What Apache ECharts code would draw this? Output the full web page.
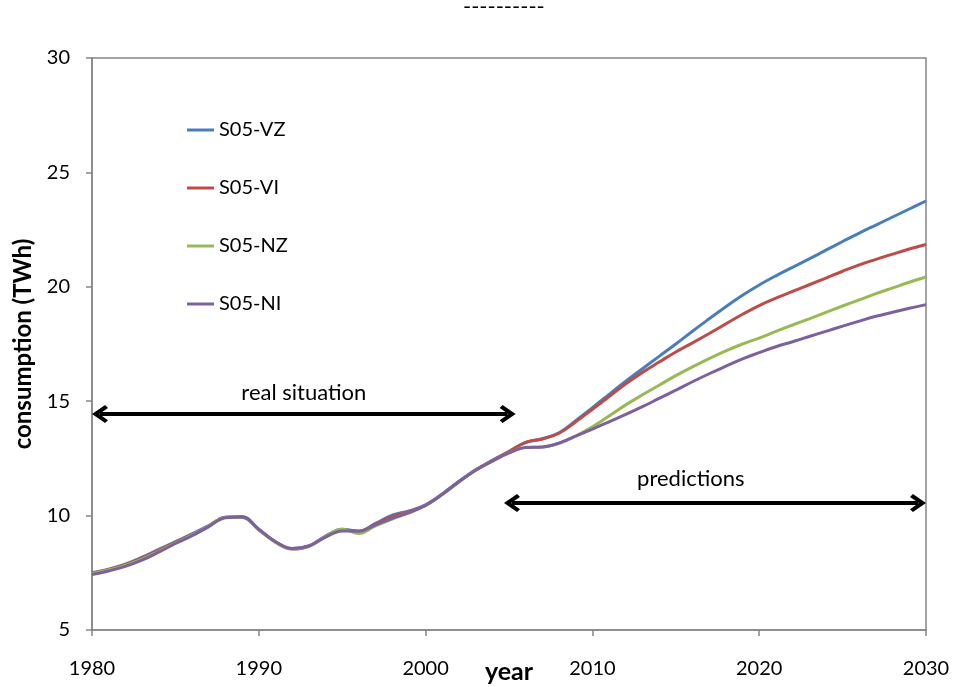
<!DOCTYPE html>
<html>
<head>
<meta charset="utf-8">
<script src="https://cdn.jsdelivr.net/npm/echarts@6/dist/echarts.min.js"></script>
<style>
html,body{margin:0;padding:0;background:#fff;}
#chart{width:954px;height:687px;}
</style>
</head>
<body>
<div id="chart"></div>
<script>
const years = [1980,1981,1982,1983,1984,1985,1986,1987,1988,1989,
  1990,1991,1992,1993,1994,1995,1996,1997,1998,1999,
  2000,2001,2002,2003,2004,2005,2006,2007,2008,2009,
  2010,2011,2012,2013,2014,2015,2016,2017,2018,2019,
  2020,2021,2022,2023,2024,2025,2026,2027,2028,2029,2030];

const s05VZ = [7.50,7.66,7.88,8.18,8.52,8.86,9.20,9.56,9.93,9.95,
  9.40,8.86,8.56,8.68,9.10,9.40,9.32,9.66,10.02,10.20,
  10.47,10.95,11.50,12.00,12.42,12.80,13.20,13.36,13.62,14.15,
  14.72,15.30,15.87,16.42,16.96,17.50,18.06,18.60,19.13,19.63,
  20.08,20.48,20.85,21.22,21.60,21.98,22.35,22.70,23.05,23.40,23.75];

const s05VI = [7.48,7.64,7.85,8.14,8.48,8.83,9.17,9.54,9.93,9.94,
  9.39,8.84,8.54,8.66,9.08,9.38,9.32,9.63,9.96,10.17,
  10.45,10.93,11.48,11.99,12.41,12.80,13.20,13.35,13.60,14.10,
  14.65,15.20,15.76,16.26,16.71,17.15,17.55,17.96,18.38,18.80,
  19.18,19.50,19.80,20.09,20.38,20.68,20.96,21.20,21.43,21.65,21.85];

const s05NZ = [7.46,7.62,7.82,8.10,8.44,8.80,9.15,9.53,9.92,9.92,
  9.37,8.84,8.55,8.66,9.08,9.40,9.22,9.55,9.85,10.12,
  10.44,10.92,11.48,11.98,12.38,12.74,12.98,13.00,13.16,13.48,
  13.88,14.35,14.84,15.28,15.70,16.12,16.50,16.86,17.20,17.50,
  17.76,18.05,18.33,18.60,18.88,19.16,19.43,19.70,19.95,20.20,20.43];

const s05NI = [7.42,7.58,7.78,8.05,8.40,8.78,9.12,9.52,9.91,9.94,
  9.40,8.86,8.56,8.67,9.06,9.33,9.32,9.60,9.88,10.13,
  10.45,10.93,11.48,11.98,12.38,12.74,12.98,13.00,13.17,13.47,
  13.78,14.10,14.42,14.76,15.12,15.48,15.85,16.20,16.53,16.85,
  17.12,17.38,17.60,17.83,18.05,18.28,18.50,18.71,18.89,19.06,19.22];

const seriesNames = ['S05-VZ','S05-VI','S05-NZ','S05-NI'];
const seriesValues = [s05VZ, s05VI, s05NZ, s05NI];
const seriesColors = ['#4A7EBB','#BE4B48','#98B954','#7D60A0'];

const xTicks = [1980, 1990, 2000, 2010, 2020, 2030];
const yTicks = [5, 10, 15, 20, 25, 30];

// annotation arrows: [fromYear, toYear, value]
const realArrow = [1980, 2005.4, 14.44];
const predArrow = [2004.7, 2030, 10.55];
// annotation texts: [year, value, text]
const realText = [1992.7, 15.35, 'real situation'];
const predText = [2015.9, 11.62, 'predictions'];

const FONT = 'Lato';
const chevron = 'path://M50,0 L100,62 L84,76 L50,34 L16,76 L0,62 Z';
const tipShift = 0.48;

const chart = echarts.init(document.getElementById('chart'), null, {renderer:'canvas'});

const series = seriesNames.map((name, i) => {
  const s = {
    name: name,
    type: 'line',
    data: years.map((y, k) => [y, seriesValues[i][k]]),
    smooth: 0.4,
    symbol: 'none',
    showSymbol: false,
    lineStyle: {color: seriesColors[i], width: 3},
    itemStyle: {color: seriesColors[i]},
    z: 2 + i,
    emphasis: {disabled: true}
  };
  if (i === 0) {
    s.markLine = {
      silent: true,
      symbol: [chevron, chevron],
      symbolSize: [18, 16],
      lineStyle: {color: '#000', width: 4, type: 'solid'},
      label: {show: false},
      emphasis: {disabled: true},
      data: [
        [{coord: [realArrow[0] + tipShift, realArrow[2]]}, {coord: [realArrow[1] - tipShift, realArrow[2]]}],
        [{coord: [predArrow[0] + tipShift, predArrow[2]]}, {coord: [predArrow[1] - tipShift, predArrow[2]]}]
      ],
      z: 10
    };
    s.markPoint = {
      silent: true,
      symbol: 'circle',
      symbolSize: 1,
      itemStyle: {color: 'rgba(0,0,0,0)'},
      label: {show: true, position: 'inside', formatter: p => p.name,
        color: '#000', fontFamily: FONT, fontSize: 22},
      data: [
        {name: realText[2], coord: [realText[0], realText[1]]},
        {name: predText[2], coord: [predText[0], predText[1]]}
      ]
    };
  }
  return s;
});

chart.setOption({
  animation: false,
  backgroundColor: '#fff',
  title: {
    text: '----------',
    left: 463,
    top: -4,
    padding: 0,
    textStyle: {fontFamily: FONT, fontSize: 22, fontWeight: 'normal', color: '#000'}
  },
  legend: {
    data: seriesNames,
    orient: 'vertical',
    left: 187,
    top: 120,
    padding: 0,
    icon: 'rect',
    itemWidth: 27,
    itemHeight: 3,
    itemGap: 38,
    textStyle: {fontFamily: FONT, fontSize: 20, color: '#000', lineHeight: 20}
  },
  grid: {
    left: 92, right: 28, top: 58, bottom: 57,
    containLabel: false,
    outerBoundsMode: 'none',
    show: true,
    borderColor: '#868686',
    borderWidth: 1.5,
    backgroundColor: 'transparent'
  },
  xAxis: {
    type: 'value',
    min: xTicks[0],
    max: xTicks[xTicks.length - 1],
    interval: 10,
    name: 'year',
    nameLocation: 'middle',
    nameGap: 29,
    nameMoveOverlap: false,
    nameTextStyle: {fontFamily: FONT, fontSize: 25, fontWeight: 'bold', color: '#000'},
    axisLine: {show: true, lineStyle: {color: '#868686', width: 1.5}},
    axisTick: {show: true, length: 6, lineStyle: {color: '#868686', width: 1.5}},
    axisLabel: {fontFamily: FONT, fontSize: 20, color: '#000', margin: 29, formatter: v => String(v)},
    splitLine: {show: false}
  },
  yAxis: {
    type: 'value',
    min: yTicks[0],
    max: yTicks[yTicks.length - 1],
    interval: 5,
    name: 'consumption (TWh)',
    nameLocation: 'middle',
    nameGap: 57,
    nameMoveOverlap: false,
    nameTextStyle: {fontFamily: FONT, fontSize: 24, fontWeight: 'bold', color: '#000'},
    axisLine: {show: true, lineStyle: {color: '#868686', width: 1.5}},
    axisTick: {show: true, length: 6, lineStyle: {color: '#868686', width: 1.5}},
    axisLabel: {fontFamily: FONT, fontSize: 20, color: '#000', margin: 22},
    splitLine: {show: false}
  },
  series: series
});
</script>
</body>
</html>
